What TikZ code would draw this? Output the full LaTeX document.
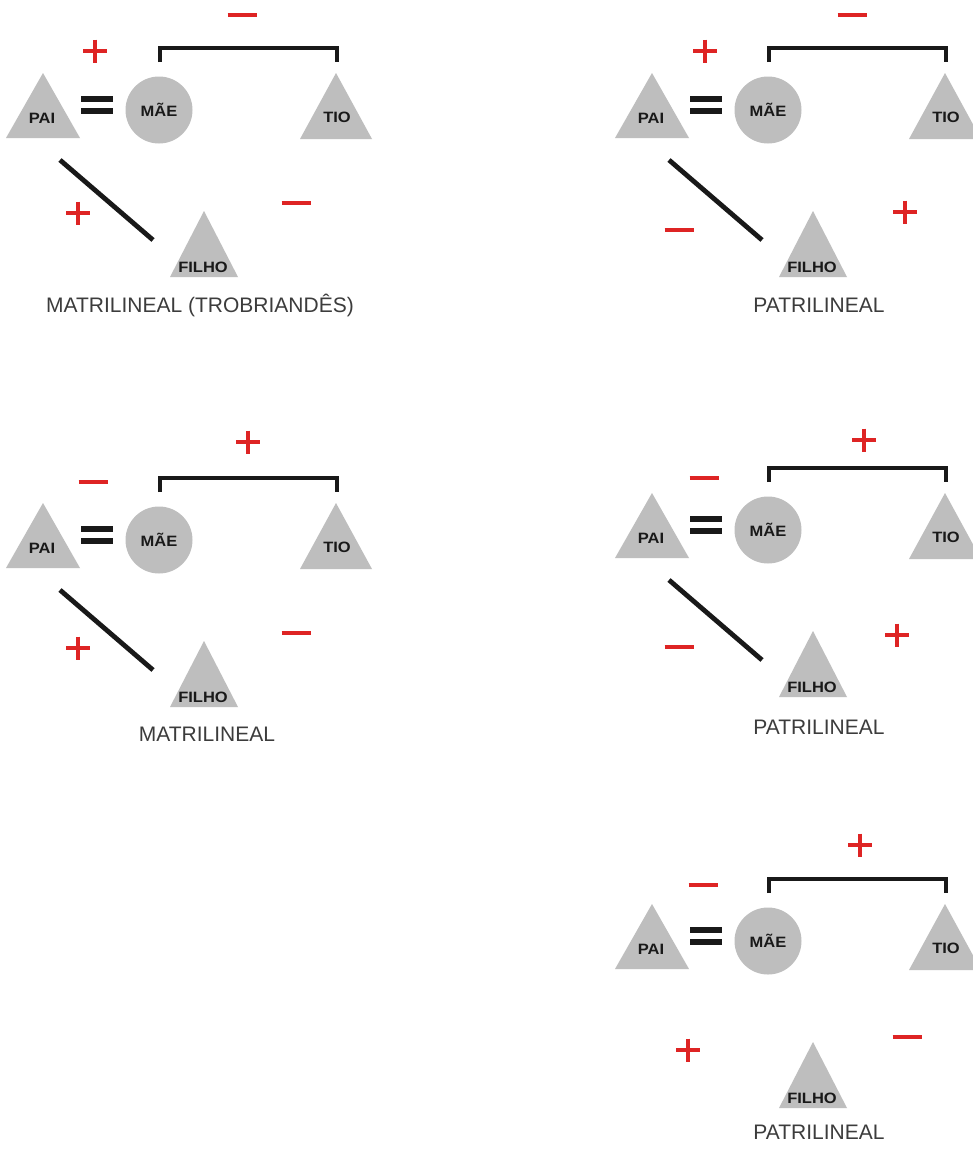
\documentclass[tikz,border=0pt]{standalone}
\usepackage{fontspec}
\setmainfont{Liberation Sans}
\newfontfamily\trifont[FakeStretch=1.1]{Liberation Sans}
\definecolor{pgray}{RGB}{190,190,190}
\definecolor{sred}{RGB}{222,36,36}
\definecolor{ink}{RGB}{25,25,25}
\definecolor{lab}{RGB}{60,60,60}
\tikzset{
  person/.style={fill=pgray,draw=none},
  tag/.style={font=\trifont\bfseries\fontsize{15}{17}\selectfont, text=ink, inner sep=0pt},
  tie/.style={draw=ink, line width=4.8pt},
  eqbar/.style={draw=ink, line width=5.5pt},
  caption/.style={font=\fontsize{21}{24}\selectfont, text=lab, inner sep=0pt, anchor=base},
  sign/.style={draw=sred, line width=3.2pt},
}
\newcommand{\plusmark}[2]{\draw[sign, shift={(#1,#2)}] (-12,0) -- (12,0) (0,-11.5) -- (0,11.5);}
\newcommand{\minusmark}[2]{\draw[sign, shift={(#1,#2)}] (-14.5,0) -- (14.5,0);}
% #1 prefix, #2 dx, #3 dy, #4 diagonal flag, #5 label x, #6 label baseline, #7 label
\newcommand{\kin}[7]{%
\begin{scope}[shift={(#2,#3)}, name prefix=#1-]
  % PAI
  \coordinate (pai) at (43,73);
  \fill[person] (pai) -- ++(37,65) -- ++(-74,0) -- cycle;
  \node[tag] (paitxt) at (42,118) {PAI};
  % marriage sign
  \coordinate (eqa) at (81,99);
  \coordinate (eqb) at (81,111);
  \draw[eqbar] (eqa) -- ++(32,0);
  \draw[eqbar] (eqb) -- ++(32,0);
  % MAE
  \node[circle, fill=pgray, minimum size=67pt, tag] (mae) at (159,110) {MÃE};
  % TIO
  \coordinate (tio) at (336,73);
  \fill[person] (tio) -- ++(36,66) -- ++(-72,0) -- cycle;
  \node[tag] (tiotxt) at (337,117) {TIO};
  % sibling bracket
  \coordinate (bl) at (160,62);
  \coordinate (br) at (337,62);
  \draw[tie] (bl) -- ++(0,-14) -| (br);
  % FILHO
  \coordinate (filho) at (204,211);
  \fill[person] (filho) -- ++(34,66) -- ++(-68,0) -- cycle;
  \node[tag] (filhotxt) at (203,267) {FILHO};
  % descent line
  \ifnum#4=1
    \coordinate (da) at (60,160);
    \coordinate (db) at (153,240);
    \draw[tie] (da) -- (db);
  \fi
  \node[caption] (cap) at (#5,#6) {#7};
\end{scope}}

\begin{document}
\begin{tikzpicture}[x=1pt,y=-1pt]
\fill[white] (0,0) rectangle (973,1149);
\useasboundingbox (0,0) rectangle (973,1149);
\clip (0,0) rectangle (973,1149);

\kin{d1}{0}{0}{1}{200}{312}{MATRILINEAL (TROBRIANDÊS)}
\kin{d2}{609}{0}{1}{210}{312}{PATRILINEAL}
\kin{d3}{0}{430}{1}{207}{311}{MATRILINEAL}
\kin{d4}{609}{420}{1}{210}{314}{PATRILINEAL}
\kin{d5}{609}{831}{0}{210}{308}{PATRILINEAL}

% signs, diagram 1
\minusmark{242}{15}
\plusmark{95}{51}
\plusmark{78}{213}
\minusmark{296}{203}
% diagram 2
\minusmark{852}{15}
\plusmark{705}{51}
\minusmark{679}{230}
\plusmark{905}{212}
% diagram 3
\plusmark{248}{442}
\minusmark{93}{482}
\plusmark{78}{648}
\minusmark{296}{633}
% diagram 4
\plusmark{864}{440}
\minusmark{704}{478}
\minusmark{679}{647}
\plusmark{897}{635}
% diagram 5
\plusmark{860}{845}
\minusmark{703}{885}
\plusmark{688}{1050}
\minusmark{907}{1037}
\end{tikzpicture}
\end{document}
